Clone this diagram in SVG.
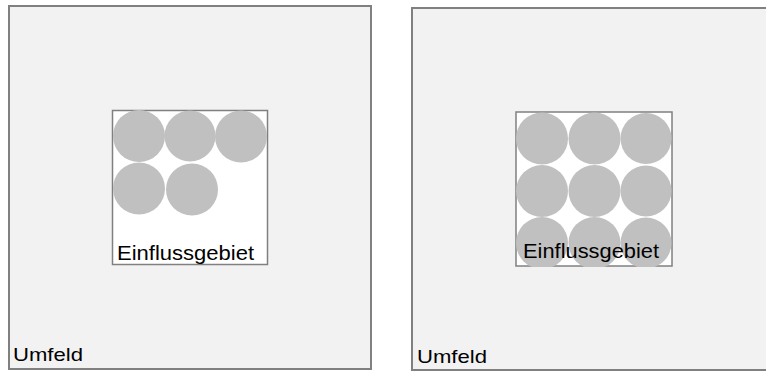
<svg xmlns="http://www.w3.org/2000/svg" width="766" height="371" viewBox="0 0 766 371">
  <style>
    .outer { fill: #f2f2f2; stroke: #808080; stroke-width: 2; }
    .inner { fill: #ffffff; stroke: #808080; stroke-width: 1.5; }
    .dot { fill: #c0c0c0; }
    .lbl { font-family: "Liberation Sans", Arial, sans-serif; fill: #000000; }
  </style>
  <defs>
    <clipPath id="clipRight">
      <rect x="516" y="112" width="156" height="155"/>
    </clipPath>
  </defs>

  <!-- Left panel: partially filled area -->
  <g id="left-panel">
    <rect class="outer" x="9" y="6" width="362" height="363"/>
    <text class="lbl" x="13" y="361" font-size="18.5" textLength="70" lengthAdjust="spacingAndGlyphs">Umfeld</text>
  </g>
  <g id="left-area">
    <rect class="inner" x="112.5" y="110.5" width="155" height="154"/>
    <circle class="dot" cx="139" cy="136" r="26"/>
    <circle class="dot" cx="190" cy="136" r="25.5"/>
    <circle class="dot" cx="241" cy="136.5" r="26"/>
    <circle class="dot" cx="139" cy="188.5" r="26"/>
    <circle class="dot" cx="192" cy="189.5" r="26"/>
    <text class="lbl" x="117" y="260" font-size="20" textLength="137" lengthAdjust="spacingAndGlyphs">Einflussgebiet</text>
  </g>

  <!-- Right panel: fully packed area -->
  <g id="right-panel">
    <rect class="outer" x="412" y="8" width="362" height="362"/>
    <text class="lbl" x="417" y="363" font-size="18.5" textLength="70" lengthAdjust="spacingAndGlyphs">Umfeld</text>
  </g>
  <g id="right-area">
    <rect class="inner" x="516" y="112" width="156" height="154"/>
    <g clip-path="url(#clipRight)">
      <circle class="dot" cx="542" cy="138.5" r="26"/>
      <circle class="dot" cx="594.5" cy="138.5" r="26"/>
      <circle class="dot" cx="646" cy="138.5" r="25.5"/>
      <circle class="dot" cx="542" cy="191" r="26"/>
      <circle class="dot" cx="594.5" cy="191" r="26"/>
      <circle class="dot" cx="646" cy="191" r="25.5"/>
      <circle class="dot" cx="542" cy="243" r="26"/>
      <circle class="dot" cx="594.5" cy="243" r="26"/>
      <circle class="dot" cx="646" cy="243" r="25.5"/>
    </g>
    <text class="lbl" x="523" y="258" font-size="20" textLength="136" lengthAdjust="spacingAndGlyphs">Einflussgebiet</text>
  </g>
</svg>
